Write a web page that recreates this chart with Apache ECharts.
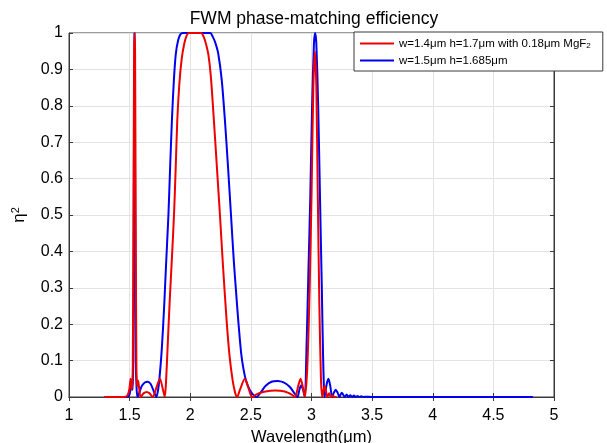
<!DOCTYPE html>
<html>
<head>
<meta charset="utf-8">
<script src="https://cdn.jsdelivr.net/npm/echarts@6/dist/echarts.min.js"></script>
<style>
  html, body { margin: 0; padding: 0; background: #fff; overflow: hidden; }
  #chart { width: 607px; height: 443px; }
</style>
</head>
<body>
<div id="chart"></div>
<script>
// ---- data ----
const titleText = 'FWM phase-matching efficiency';
const xAxisTitle = 'Wavelength(μm)';
const legendNames = ['w=1.4μm h=1.7μm with 0.18μm MgF2', 'w=1.5μm h=1.685μm'];
const xTickRange = [1, 5, 0.5];   // min, max, interval
const yTickRange = [0, 1, 0.1];

// red: w=1.4um h=1.7um with MgF2  ([wavelength, eta^2])
const redData = [
  [1.30,0],[1.45,0],[1.48,0.003],[1.497,0.02],[1.508,0.05],[1.518,0.02],[1.526,0.08],
  [1.532,0.5],[1.537,0.95],[1.541,1.0],[1.545,0.95],[1.55,0.5],[1.556,0.08],[1.562,0.03],
  [1.57,0.045],[1.58,0.02],[1.59,0.0],[1.615,0.01],[1.64,0.014],[1.665,0.01],[1.69,0.0],
  [1.72,0.025],[1.75,0.05],[1.775,0.02],[1.79,0.0],[1.80,0.04],[1.815,0.15],[1.83,0.26],
  [1.85,0.39],[1.866,0.5],[1.88,0.63],[1.893,0.76],[1.91,0.86],[1.93,0.93],[1.95,0.97],
  [1.97,0.993],[1.99,1.0],[2.09,1.0],[2.11,0.99],[2.13,0.97],[2.15,0.94],[2.17,0.88],
  [2.195,0.76],[2.22,0.63],[2.245,0.5],[2.27,0.36],[2.30,0.21],[2.325,0.11],[2.35,0.045],
  [2.37,0.012],[2.387,0],[2.41,0.02],[2.45,0.05],[2.48,0.025],[2.51,0],[2.55,0.008],
  [2.62,0.015],[2.70,0.018],[2.78,0.015],[2.84,0.006],[2.865,0],[2.89,0.03],[2.91,0.05],
  [2.93,0.025],[2.945,0],[2.965,0.08],[2.985,0.3],[3.0,0.55],[3.015,0.85],[3.028,0.95],
  [3.04,0.85],[3.052,0.55],[3.065,0.25],[3.078,0.05],[3.088,0],[3.10,0.02],[3.11,0.03],
  [3.12,0.015],[3.13,0],[3.145,0.01],[3.16,0],[3.175,0.004],[3.19,0],[3.2,0]
];

// blue: w=1.5um h=1.685um
const blueData = [
  [1.30,0],[1.48,0],[1.50,0.008],[1.515,0.035],[1.525,0.02],[1.53,0.1],[1.535,0.6],
  [1.54,1.0],[1.545,0.6],[1.551,0.1],[1.558,0.02],[1.565,0],[1.58,0.012],[1.60,0.03],
  [1.625,0.04],[1.65,0.042],[1.675,0.035],[1.70,0.015],[1.72,0],[1.735,0.02],[1.745,0.047],
  [1.765,0.13],[1.785,0.25],[1.80,0.36],[1.82,0.5],[1.835,0.64],[1.85,0.77],[1.865,0.87],
  [1.88,0.94],[1.90,0.98],[1.92,0.997],[1.94,1.0],[2.165,1.0],[2.185,0.99],[2.205,0.975],
  [2.23,0.945],[2.26,0.87],[2.286,0.76],[2.31,0.64],[2.336,0.5],[2.36,0.37],[2.38,0.28],
  [2.396,0.21],[2.42,0.12],[2.44,0.075],[2.46,0.045],[2.49,0.02],[2.52,0.006],[2.547,0],
  [2.58,0.012],[2.62,0.03],[2.67,0.042],[2.72,0.044],[2.77,0.04],[2.82,0.028],[2.86,0.01],
  [2.885,0],[2.90,0.02],[2.915,0.032],[2.93,0.02],[2.945,0],[2.96,0.15],[2.975,0.35],
  [2.99,0.55],[3.005,0.8],[3.02,0.97],[3.03,1.0],[3.04,0.97],[3.055,0.8],[3.07,0.55],
  [3.085,0.3],[3.095,0.12],[3.103,0.02],[3.108,0],[3.125,0.035],[3.14,0.05],[3.155,0.03],
  [3.17,0],[3.185,0.012],[3.2,0.02],[3.215,0.012],[3.23,0],[3.24,0.007],[3.25,0.012],
  [3.26,0.007],[3.275,0],[3.29,0.007],[3.305,0],[3.32,0.005],[3.335,0],[3.35,0.004],
  [3.365,0],[3.38,0.003],[3.395,0],[3.41,0.002],[3.43,0],[3.45,0.001],[3.5,0],[4.82,0]
];

// ---- chart ----
const FONT = 'Liberation Sans, Arial, sans-serif';
const frameColor = '#3a3a3a';
const chart = echarts.init(document.getElementById('chart'), null, { renderer: 'canvas', width: 607, height: 443 });

function fmtTick(v) { return String(Math.round(v * 10) / 10); }

const baseX = { type: 'value', min: xTickRange[0], max: xTickRange[1], interval: xTickRange[2] };
const baseY = { type: 'value', min: yTickRange[0], max: yTickRange[1], interval: yTickRange[2] };

chart.setOption({
  animation: false,
  backgroundColor: '#ffffff',
  title: {
    text: titleText, left: 309, top: 5, textAlign: 'center',
    textStyle: { fontFamily: FONT, fontSize: 17.5, fontWeight: 'normal', color: '#000' }
  },
  grid: {
    left: 69, right: 53, top: 33, bottom: 46, containLabel: false, outerBoundsMode: 'none',
    show: true, borderColor: frameColor, borderWidth: 1
  },
  legend: {
    data: legendNames, orient: 'vertical', left: 354, top: 32,
    backgroundColor: '#fff', borderColor: frameColor, borderWidth: 1,
    padding: [5, 12, 4, 6], itemGap: 4, itemWidth: 34, itemHeight: 2, icon: 'rect',
    formatter: function (name) {
      if (name.endsWith('MgF2')) return '{t|' + name.slice(0, -1) + '}{s|2}';
      return '{t|' + name + '}';
    },
    textStyle: {
      fontFamily: FONT, fontSize: 11.5, color: '#000', lineHeight: 13,
      rich: {
        t: { fontFamily: FONT, fontSize: 11.5, color: '#000', lineHeight: 13 },
        s: { fontFamily: FONT, fontSize: 8, color: '#000', verticalAlign: 'bottom', padding: [6, 0, 0, 0] }
      }
    }
  },
  xAxis: [
    Object.assign({}, baseX, {
      position: 'bottom',
      name: xAxisTitle, nameLocation: 'middle', nameGap: 30,
      nameTextStyle: { fontFamily: FONT, fontSize: 16.5, color: '#000' },
      axisLine: { show: true, lineStyle: { color: frameColor, width: 1 } },
      axisTick: { show: true, inside: true, length: 4, lineStyle: { color: frameColor } },
      axisLabel: { fontFamily: FONT, fontSize: 16, color: '#000', margin: 11, formatter: fmtTick },
      splitLine: { show: true, lineStyle: { color: '#e3e3e3', width: 1 } }
    }),
    Object.assign({}, baseX, {
      position: 'top',
      axisLine: { show: true, lineStyle: { color: frameColor, width: 1 } },
      axisTick: { show: true, inside: true, length: 4, lineStyle: { color: frameColor } },
      axisLabel: { show: false }, splitLine: { show: false }
    })
  ],
  yAxis: [
    Object.assign({}, baseY, {
      position: 'left',
      name: '{e|η}{s|2}', nameLocation: 'middle', nameGap: 40, nameRotate: 90,
      nameTextStyle: {
        fontFamily: FONT, color: '#000',
        rich: {
          e: { fontFamily: FONT, fontSize: 17, color: '#000' },
          s: { fontFamily: FONT, fontSize: 11, color: '#000', verticalAlign: 'top', padding: [0, 0, 8, 0] }
        }
      },
      axisLine: { show: true, lineStyle: { color: frameColor, width: 1 } },
      axisTick: { show: true, inside: true, length: 4, lineStyle: { color: frameColor } },
      axisLabel: { fontFamily: FONT, fontSize: 16, color: '#000', margin: 6, formatter: fmtTick },
      splitLine: { show: true, lineStyle: { color: '#e3e3e3', width: 1 } }
    }),
    Object.assign({}, baseY, {
      position: 'right',
      axisLine: { show: true, lineStyle: { color: frameColor, width: 1 } },
      axisTick: { show: true, inside: true, length: 4, lineStyle: { color: frameColor } },
      axisLabel: { show: false }, splitLine: { show: false }
    })
  ],
  series: [
    {
      name: legendNames[1], type: 'line', data: blueData, xAxisIndex: 0, yAxisIndex: 0,
      symbol: 'none', smooth: 0.25, clip: true,
      lineStyle: { color: '#0000ee', width: 2, join: 'round', cap: 'round' }, itemStyle: { color: '#0000ee' }, z: 2
    },
    {
      name: legendNames[0], type: 'line', data: redData, xAxisIndex: 0, yAxisIndex: 0,
      symbol: 'none', smooth: 0.25, clip: true,
      lineStyle: { color: '#ee0000', width: 2, join: 'round', cap: 'round' }, itemStyle: { color: '#ee0000' }, z: 3
    }
  ]
});
</script>
</body>
</html>
